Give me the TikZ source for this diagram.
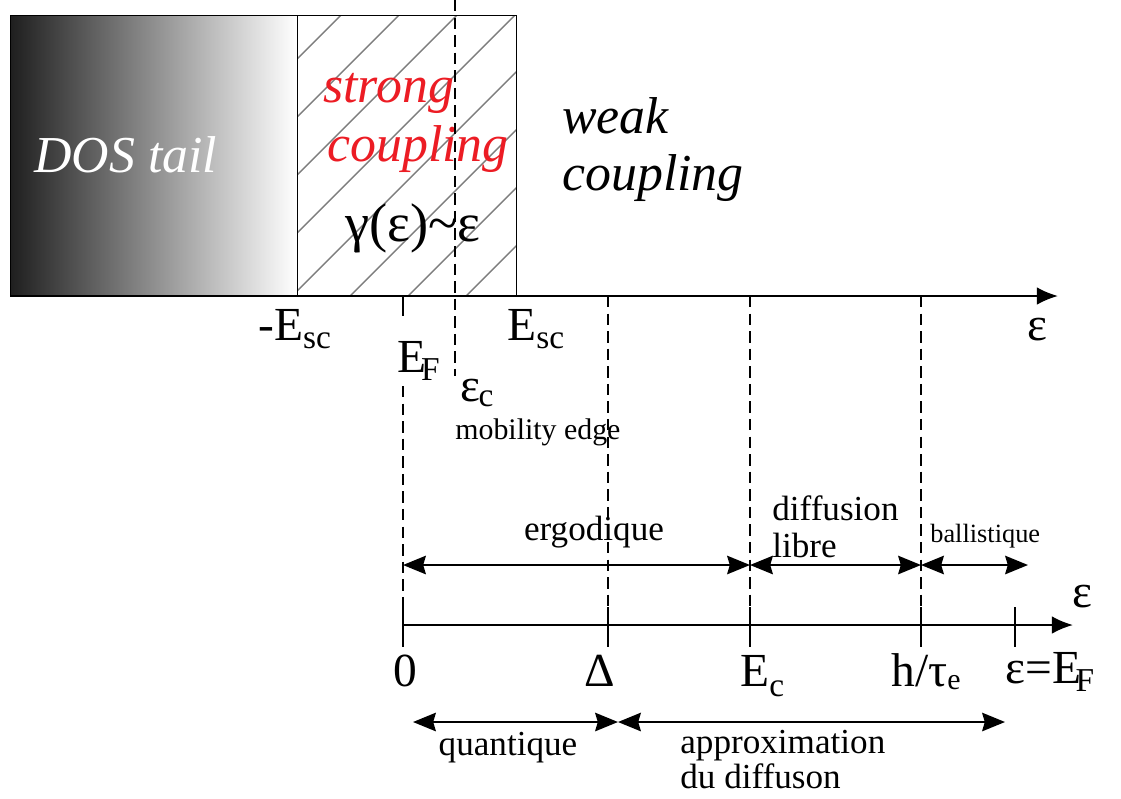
\documentclass[tikz,border=0pt]{standalone}
\usepackage{fontspec}
\setmainfont{Liberation Serif}
\usetikzlibrary{arrows.meta, positioning, calc}
\definecolor{strongred}{RGB}{236,28,36}
\definecolor{hatchgray}{RGB}{125,125,125}
\newcommand{\lowidx}[3][0pt]{\kern#1\raisebox{#2}{\fontsize{19}{19}\selectfont #3}}

\begin{document}
\begin{tikzpicture}[x=0.02cm, y=-0.02cm,
    axis/.style={line width=1.2pt, -{Latex[length=12pt, width=10pt]}},
    guide/.style={line width=0.6pt, dash pattern=on 6.5pt off 3.5pt},
    tick/.style={line width=0.6pt},
    span/.style={line width=1.2pt,
                 {Stealth[length=13pt, width=10.5pt, inset=1.5pt]}-{Stealth[length=13pt, width=10.5pt, inset=1.5pt]}},
    big/.style={font=\fontsize{27}{30}\selectfont, inner sep=0pt},
    zone/.style={font=\fontsize{29.5}{33}\selectfont\itshape, inner sep=0pt},
    regime/.style={font=\fontsize{20}{21}\selectfont, inner sep=0pt}
  ]
    \useasboundingbox (0,0) rectangle (1121,798);

    % DOS tail and strong coupling boxes
    \shade[left color=black!88, middle color=black!52, right color=white] (10,15) rectangle (297,296);
    \draw[line width=0.5pt] (10,15) rectangle (297,296);
    \begin{scope}
      \clip (297,15) rectangle (516,296);
      \foreach \c in {356,414,...,820} {
        \draw[hatchgray, line width=0.8pt] (\c-296,296) -- (\c-15,15);
      }
    \end{scope}
    \draw[line width=0.5pt] (297,15) rectangle (516,296);

    \node[zone, text=white, anchor=base west] (dos) at (34,172) {DOS tail};
    \node[zone, text=strongred, anchor=base west] (strong) at (323,102) {strong};
    \node[zone, text=strongred, anchor=base west] (strongc) at (327,161) {coupling};
    \node[zone, anchor=base west] (weak) at (562,133) {weak};
    \node[zone, anchor=base west] (weakc) at (562,190) {coupling};
    \node[font=\fontsize{31}{31}\selectfont, inner sep=0pt, anchor=base] (gamma) at (413,241) {γ(ε)\textasciitilde ε};

    % upper energy axis
    \coordinate (origin) at (10,296);
    \coordinate (upend) at (1058,296);
    \draw[axis] (origin) -- (upend);
    \node[big, anchor=base west] (epsup) at (1027,340) {ε};
    \node[big, anchor=base west] (mesc) at (258,340) {-E\lowidx{-5pt}{sc}};
    \node[big, anchor=base west] (esc) at (507,340) {E\lowidx{-5pt}{sc}};
    \node[big, anchor=base west] (ef) at (397,372) {E\lowidx[-3pt]{-5pt}{F}};
    \node[big, anchor=base west] (epsc) at (460,401) {ε\lowidx[-1pt]{-3pt}{c}};
    \node[font=\fontsize{17}{17}\selectfont, inner sep=0pt, anchor=base west] (mob) at (455,439) {mobility edge};

    % mobility edge and Fermi level
    \coordinate (mtop) at (455,0);
    \coordinate (mbot) at (455,376);
    \draw[guide] (mtop) -- (mbot);
    \coordinate (eftick) at (403,296);
    \coordinate (eftickend) at (403,316);
    \draw[tick] (eftick) -- (eftickend);
    \coordinate (efgap) at (403,386);

    % lower axis
    \foreach \n/\x in {zero/403, gap/608, thou/750, elas/921, fermi/1015} {
      \coordinate (\n) at (\x,625);
      \coordinate (\n top) at (\x,296);
    }
    \coordinate (lowend) at (1073,625);
    \draw[axis] (zero) -- (lowend);
    \draw[guide] (efgap) -- (zero);
    \foreach \n in {gap,thou,elas} {
      \draw[guide] (\n top) -- (\n);
    }
    \foreach \n in {zero,gap,thou,elas,fermi} {
      \draw[tick] ($(\n)+(0,-18)$) -- ($(\n)+(0,22)$);
    }
    \node[big, anchor=base west] (epslow) at (1072,607) {ε};
    \node[big, anchor=base] (lzero) at (405,686) {0};
    \node[big, anchor=base] (lgap) at (600,686) {Δ};
    \node[big, anchor=base west] (lthou) at (740,686) {E\lowidx{-6pt}{c}};
    \node[big, anchor=base west] (lelas) at (891,686) {h/τ\raisebox{-2pt}{\fontsize{17}{17}\selectfont e}};
    \node[big, anchor=base west] (lfermi) at (1005,683) {ε=E\lowidx[-3pt]{-5pt}{F}};

    % regimes
    \coordinate (r1a) at (403,565);
    \coordinate (r1b) at (750,565);
    \coordinate (r1c) at (921,565);
    \coordinate (r1d) at (1028,565);
    \draw[span] (r1a) -- (r1b);
    \draw[span] (r1b) -- (r1c);
    \draw[span] (r1c) -- (r1d);
    \coordinate (r2a) at (413,722);
    \coordinate (r2b) at (618,722);
    \coordinate (r2c) at (1005,722);
    \draw[span] (r2a) -- (r2b);
    \draw[span] (r2b) -- (r2c);

    \node[regime, anchor=base] (ergo) at (594,540) {ergodique};
    \node[regime, anchor=base west] (diff) at (772,520) {diffusion};
    \node[regime, anchor=base west] (diffl) at (772,557) {libre};
    \node[font=\fontsize{15}{15}\selectfont, inner sep=0pt, anchor=base west] (ball) at (930,542) {ballistique};
    \node[regime, anchor=base] (quant) at (508,755) {quantique};
    \node[regime, anchor=base west] (approx) at (680,753) {approximation};
    \node[regime, anchor=base west] (approxd) at (680,788) {du diffuson};
  \end{tikzpicture}
\end{document}
